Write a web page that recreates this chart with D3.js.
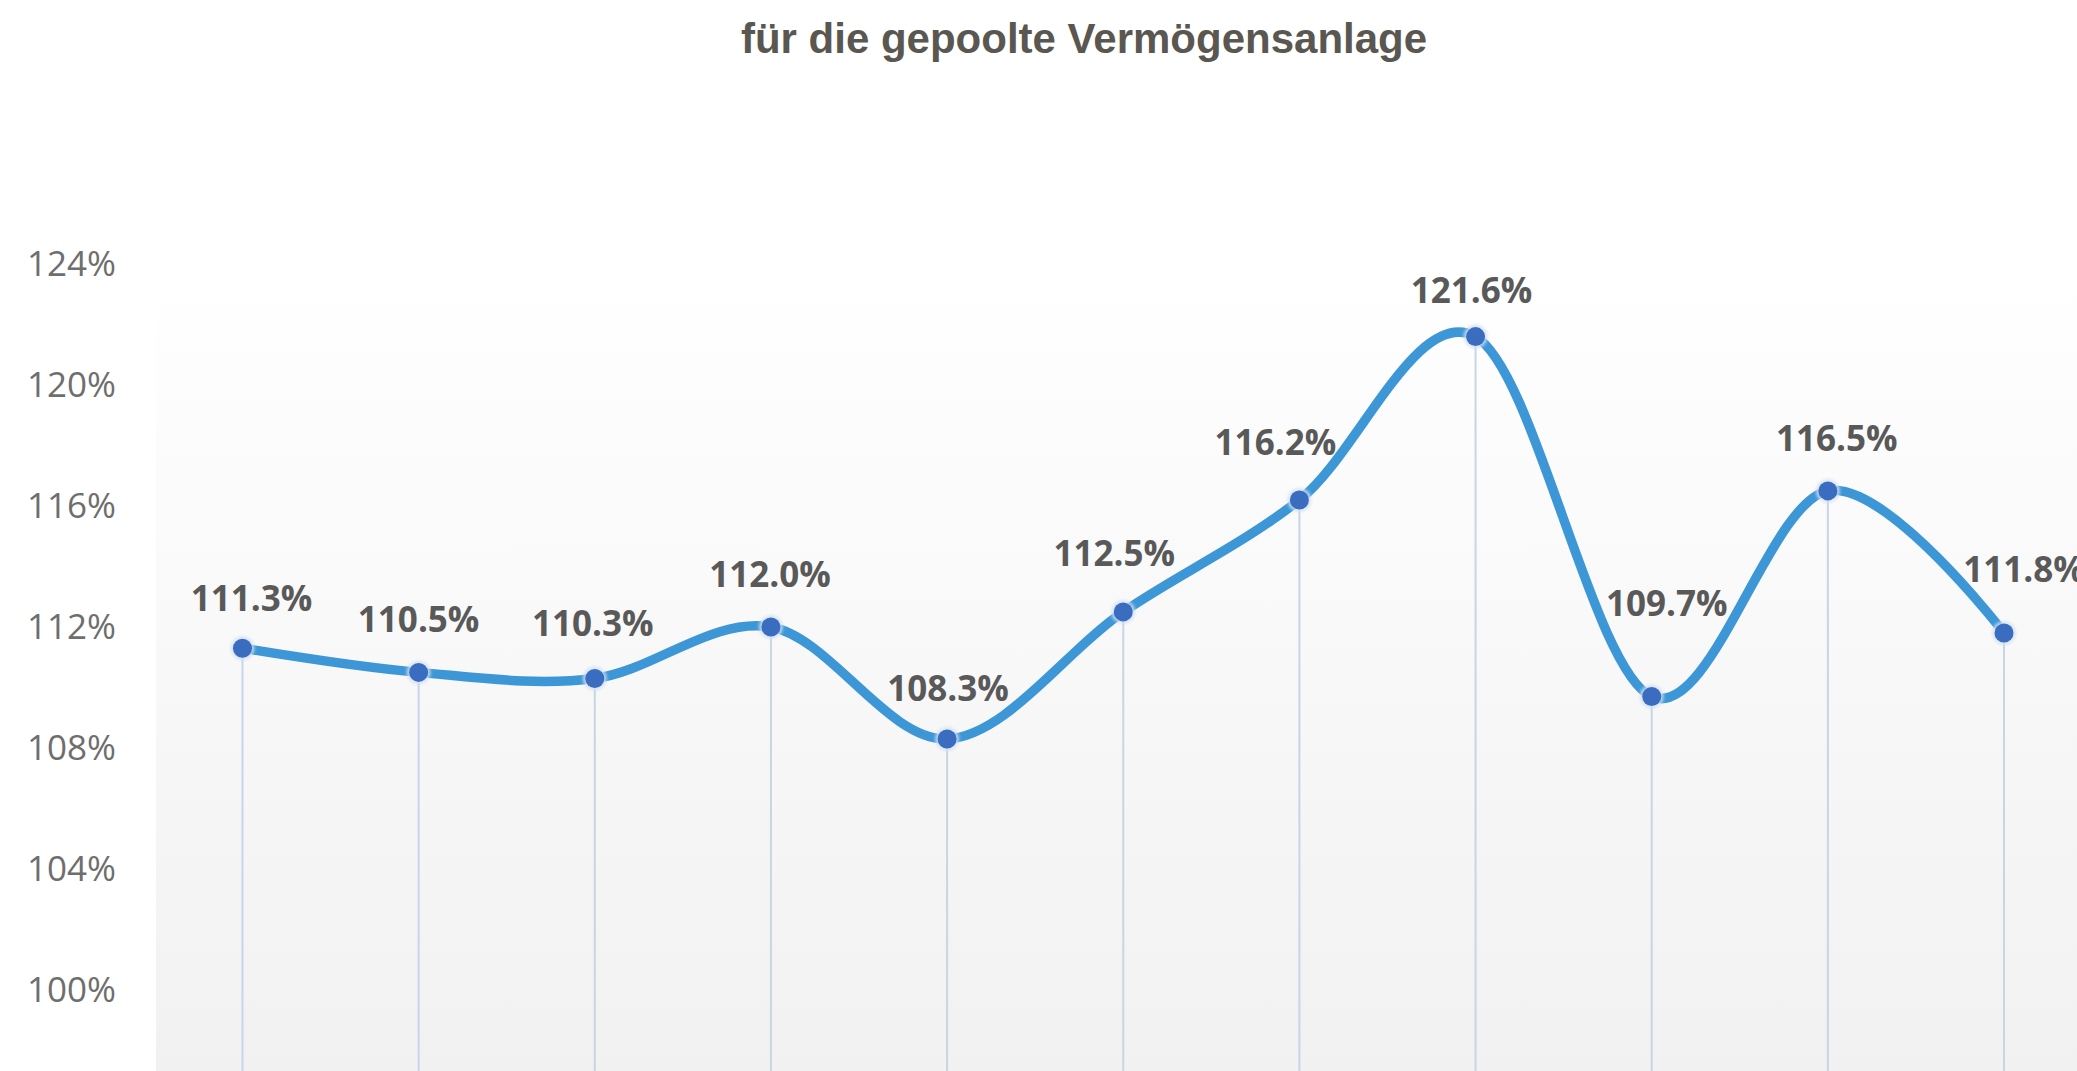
<!DOCTYPE html>
<html>
<head>
<meta charset="utf-8">
<script src="https://cdn.jsdelivr.net/npm/d3@7/dist/d3.min.js"></script>
<style>
  html, body { margin: 0; padding: 0; background: #ffffff; overflow: hidden; }
  svg { display: block; }
</style>
</head>
<body>
<script>
// ---- data ----
const title = "für die gepoolte Vermögensanlage";
const categories = ["1", "2", "3", "4", "5", "6", "7", "8", "9", "10", "11"];
const values = [111.3, 110.5, 110.3, 112.0, 108.3, 112.5, 116.2, 121.6, 109.7, 116.5, 111.8];
const yTicks = [100, 104, 108, 112, 116, 120, 124];

// ---- layout ----
const W = 2077, H = 1071;
const svg = d3.select("body").append("svg").attr("width", W).attr("height", H);

const x = d3.scaleBand().domain(categories).range([154.4, 2092.1]).paddingInner(0).paddingOuter(0);
const cx = c => x(c) + x.bandwidth() / 2;
const y = d3.scaleLinear().domain([100, 124]).range([990, 264]);
const plotBottom = y(96);

// label placement tweaks (dx, lift above point) as in the reference
const labelOffsets = [[9, 37], [0, 40], [-2, 42], [-1, 40], [1, 38], [-9, 46], [-24, 45], [-4, 34], [15, 81], [9, 40], [20, 51]];

const defs = svg.append("defs");
const grad = defs.append("linearGradient").attr("id", "bg")
  .attr("gradientUnits", "userSpaceOnUse")
  .attr("x1", 0).attr("x2", 0).attr("y1", 270).attr("y2", 1071);
grad.append("stop").attr("offset", 0).attr("stop-color", "#ffffff");
grad.append("stop").attr("offset", 1).attr("stop-color", "#f1f1f1");

const blur = defs.append("filter").attr("id", "glow").attr("x", "-50%").attr("y", "-50%").attr("width", "200%").attr("height", "200%");
blur.append("feGaussianBlur").attr("stdDeviation", 1.5);

// plot area background
svg.append("rect")
  .attr("x", x.range()[0] + 1.6).attr("y", 150)
  .attr("width", x.range()[1] - x.range()[0]).attr("height", plotBottom - 150)
  .attr("fill", "url(#bg)");

// title
svg.append("text")
  .attr("x", 1084).attr("y", 53)
  .attr("text-anchor", "middle")
  .attr("font-family", "'Liberation Sans', Arial, sans-serif")
  .attr("font-weight", "bold")
  .attr("font-size", 42)
  .attr("fill", "#5a5650")
  .text(title);

// y axis
const yAxis = d3.axisLeft(y).tickValues(yTicks).tickSize(0).tickPadding(40).tickFormat(d => d + "%");
const gy = svg.append("g").attr("transform", `translate(156,0)`).call(yAxis);
gy.select(".domain").remove();
gy.selectAll("text")
  .attr("font-family", "'Open Sans', sans-serif")
  .attr("font-size", 35)
  .attr("fill", "#6e6e6e");

const pts = categories.map((c, i) => ({ c, v: values[i], i }));

// drop lines
svg.append("g").selectAll("line").data(pts).join("line")
  .attr("x1", d => cx(d.c)).attr("x2", d => cx(d.c))
  .attr("y1", d => y(d.v)).attr("y2", plotBottom)
  .attr("stroke", "#c6d6e4").attr("stroke-width", 2);

// smoothed line
const line = d3.line().x(d => cx(d.c)).y(d => y(d.v)).curve(d3.curveCardinal.tension(0));
svg.append("path").datum(pts)
  .attr("d", line)
  .attr("fill", "none")
  .attr("stroke", "#3d97d7")
  .attr("stroke-width", 9.5)
  .attr("stroke-linecap", "round")
  .attr("stroke-linejoin", "round");

// markers with halo
const mk = svg.append("g");
mk.selectAll("circle.halo").data(pts).join("circle").attr("class", "halo")
  .attr("cx", d => cx(d.c)).attr("cy", d => y(d.v)).attr("r", 12)
  .attr("fill", "#d3e1f2").attr("opacity", 0.8).attr("filter", "url(#glow)");
mk.selectAll("circle.dot").data(pts).join("circle").attr("class", "dot")
  .attr("cx", d => cx(d.c)).attr("cy", d => y(d.v)).attr("r", 9.5)
  .attr("fill", "#3a6cc0");

// data labels
svg.append("g").selectAll("text").data(pts).join("text")
  .attr("x", d => cx(d.c) + labelOffsets[d.i][0])
  .attr("y", d => y(d.v) - labelOffsets[d.i][1])
  .attr("text-anchor", "middle")
  .attr("font-family", "'Open Sans', sans-serif")
  .attr("font-weight", 700)
  .attr("font-size", 35)
  .attr("fill", "#595959")
  .text(d => d.v.toFixed(1) + "%");
</script>
</body>
</html>
